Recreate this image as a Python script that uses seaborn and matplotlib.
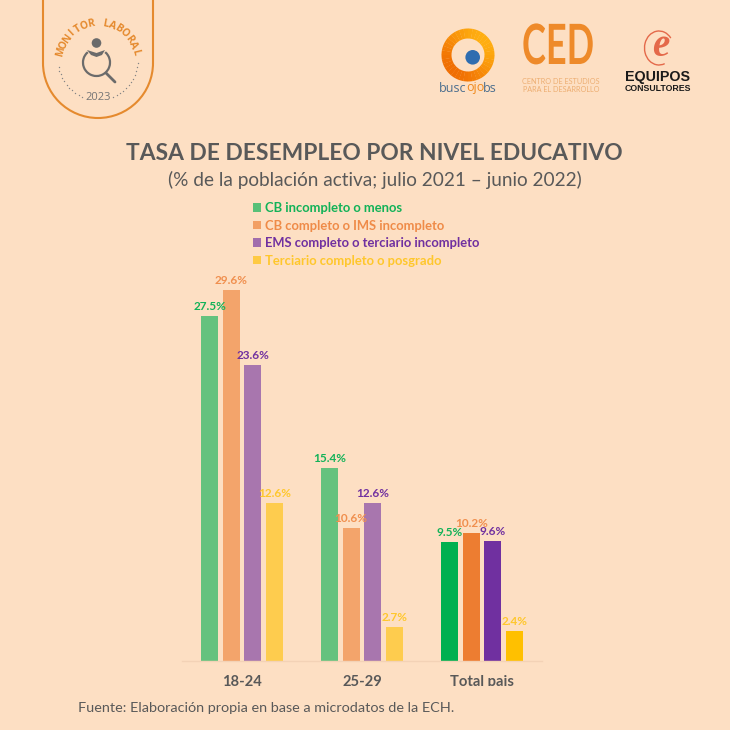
import numpy as np
import pandas as pd
import matplotlib
matplotlib.use("Agg")
import matplotlib.pyplot as plt
import matplotlib.patheffects as pe
import seaborn as sns
from matplotlib.colors import to_rgb
from matplotlib.patches import Patch, Circle, Arc, Rectangle, Wedge, Polygon
from matplotlib.transforms import Affine2D

# DATA

age_groups = ["18-24", "25-29", "Total pais"]
levels = [
    "CB incompleto o menos",
    "CB completo o IMS incompleto",
    "EMS completo o terciario incompleto",
    "Terciario completo o posgrado",
]
cb_incompleto = [27.5, 15.4, 9.5]
cb_completo = [29.6, 10.6, 10.2]
ems_completo = [23.6, 12.6, 9.6]
terciario = [12.6, 2.7, 2.4]

BG = "#FDDFC3"
GREY = "#595959"
colors = ["#00B050", "#ED7D31", "#7030A0", "#FFC000"]
label_colors = ["#12B258", "#F08F4E", "#7030A0", "#FFC72C"]


class Squeeze(pe.AbstractPathEffect):
    """Narrows a text horizontally (no condensed font is installed)."""

    def __init__(self, sx):
        super().__init__()
        self.sx = sx

    def draw_path(self, renderer, gc, tpath, affine, rgbFace=None):
        renderer.draw_path(gc, tpath, Affine2D().scale(self.sx, 1) + affine, rgbFace)


sns.set_theme(style="white")
plt.rcParams["font.family"] = ["Lato", "DejaVu Sans"]

rows = []
for level, values in zip(levels, [cb_incompleto, cb_completo, ems_completo, terciario]):
    for group, value in zip(age_groups, values):
        rows.append({"group": group, "level": level, "value": value})
df = pd.DataFrame(rows)

fig = plt.figure(figsize=(7.3, 7.3), dpi=100, facecolor=BG)

# CHART

ax = fig.add_axes([182 / 730, 69 / 730, 360 / 730, 401 / 730])
ax.set_facecolor("none")
sns.barplot(data=df, x="group", y="value", hue="level", hue_order=levels, order=age_groups,
            palette=colors, saturation=1, width=0.72, gap=0.22, legend=False, linewidth=0, ax=ax)
ax.set_xlim(-0.5, 2.5)
ax.set_ylim(0, 32)
ax.set_xlabel("")
ax.set_ylabel("")
ax.set_yticks([])
ax.tick_params(axis="x", length=0, pad=10)
for tick in ax.get_xticklabels():
    tick.set_fontsize(10.6)
    tick.set_fontweight("bold")
    tick.set_color(GREY)
sns.despine(ax=ax, left=True)
ax.spines["bottom"].set_color("#F3D2B6")
ax.spines["bottom"].set_linewidth(1)

for container, lab_color in zip(ax.containers, label_colors):
    # the two age groups are washed out, the total is at full colour
    for bar in container[:2]:
        bar.set_alpha(0.6)
    ax.bar_label(container, fmt="%.1f%%", padding=3, color=lab_color,
                 fontsize=8.5, fontweight="bold")

handles = [Patch(facecolor=c, alpha=0.65, linewidth=0) for c in colors]
leg = fig.legend(handles, levels, loc="upper left", bbox_to_anchor=(244 / 730, 1 - 193 / 730),
                 frameon=False, handlelength=0.62, handleheight=0.62, handletextpad=0.3,
                 labelspacing=0.42, borderpad=0.2, prop={"size": 9.4, "weight": "bold"},
                 labelcolor=["#12B258", "#EF8B48", "#7030A0", "#FFC72C"])

# OVERLAY IN PIXELS (titles, badge, logos)

over = fig.add_axes([0, 0, 1, 1], zorder=5)
over.set_xlim(0, 730)
over.set_ylim(730, 0)
over.axis("off")
over.patch.set_alpha(0)

# the tick labels are cut off in the source image
over.add_patch(Rectangle((180, 686), 370, 12, color=BG, lw=0))

over.text(374, 153, "TASA DE DESEMPLEO POR NIVEL EDUCATIVO", ha="center", va="center",
          fontsize=16.4, fontweight="bold", color=GREY)
over.text(374.5, 180, "(% de la población activa; julio 2021 – junio 2022)", ha="center", va="center",
          fontsize=13.7, color=GREY)
over.text(78, 708, "Fuente: Elaboración propia en base a microdatos de la ECH.", ha="left", va="center",
          fontsize=10.4, color=GREY)

# badge
ORANGE = "#E58A2E"
over.plot([43, 43], [-2, 63], color=ORANGE, lw=1.5)
over.plot([153, 153], [-2, 63], color=ORANGE, lw=1.5)
over.add_patch(Arc((98, 63), 110, 110, theta1=0, theta2=180, color=ORANGE, lw=1.5))

badge_text = "MONITOR LABORAL"
for letter, ang in zip(badge_text, np.linspace(-76, 76, len(badge_text))):
    rad = np.radians(ang)
    over.text(98 + 38 * np.sin(rad), 61 - 38 * np.cos(rad), letter, rotation=-ang,
              rotation_mode="anchor", ha="center", va="center", fontsize=7.4,
              fontweight="bold", color=ORANGE, family="Open Sans")
for ang in np.arange(95, 266, 5.7):
    if 158 < ang < 202:
        continue
    rad = np.radians(ang)
    over.plot(98 + 40 * np.sin(rad), 60 - 40 * np.cos(rad), "o", ms=1, mew=0, color="#858585")
over.text(98, 97, "2023", ha="center", va="center", fontsize=8, color="#757575", family="Open Sans")

ICON = "#6B6B6B"
over.add_patch(Arc((96.5, 62.5), 27, 27, theta1=-50, theta2=230, color=ICON, lw=1.6))
over.plot([106, 115], [73, 82], color=ICON, lw=2, solid_capstyle="round")
over.add_patch(Polygon([[87, 50], [96.5, 53], [105, 50], [102, 55], [96.5, 57], [91, 55]], color=ICON, lw=0))
over.add_patch(Circle((96.5, 43), 4.8, color=ICON, lw=0))

# buscojobs, ring shaded from top right to bottom left
for start in range(0, 360, 10):
    mix = (1 + np.cos(np.radians(start + 5 - 135))) / 2
    shade = tuple((1 - mix) * np.array(to_rgb("#FFAE10")) + mix * np.array(to_rgb("#F06E02")))
    over.add_patch(Wedge((468, 55), 26.5, start, start + 10.5, width=10, color=shade, lw=0))
over.add_patch(Circle((472.7, 57.3), 7.3, color="#2F6DB0", lw=0))
for txt, x, col in [("busc", 439, "#4B6E8E"), ("ojo", 466, "#F08A1D"), ("bs", 483, "#4B6E8E")]:
    over.text(x, 88, txt, ha="left", va="center", fontsize=9, color=col, family="Open Sans")

# CED
ced = over.text(522, 48, "CED", ha="left", va="center", fontsize=40, fontweight="bold", color="#EE8A2A")
ced.set_path_effects([Squeeze(0.65)])
over.text(561, 81.5, "CENTRO DE ESTUDIOS", ha="center", va="center", fontsize=5.2, color="#EDAE72")
over.text(561, 89.5, "PARA EL DESARROLLO", ha="center", va="center", fontsize=5.2, color="#EDAE72")

# Equipos
over.add_patch(Arc((659, 48), 29, 34, theta1=70, theta2=320, color="#E4694A", lw=1))
over.text(661, 46, "e", ha="center", va="center", fontsize=28, style="italic", fontweight="bold",
          color="#E4694A", family="Liberation Serif")
over.text(658, 77, "EQUIPOS", ha="center", va="center", fontsize=10.3, fontweight="bold",
          color="#1A1A1A", family="Liberation Sans")
over.text(658, 88.5, "CONSULTORES", ha="center", va="center", fontsize=6.3, fontweight="bold",
          color="#1A1A1A", family="Liberation Sans")

fig.savefig("out.png", dpi=100, facecolor=BG)
plt.close(fig)
